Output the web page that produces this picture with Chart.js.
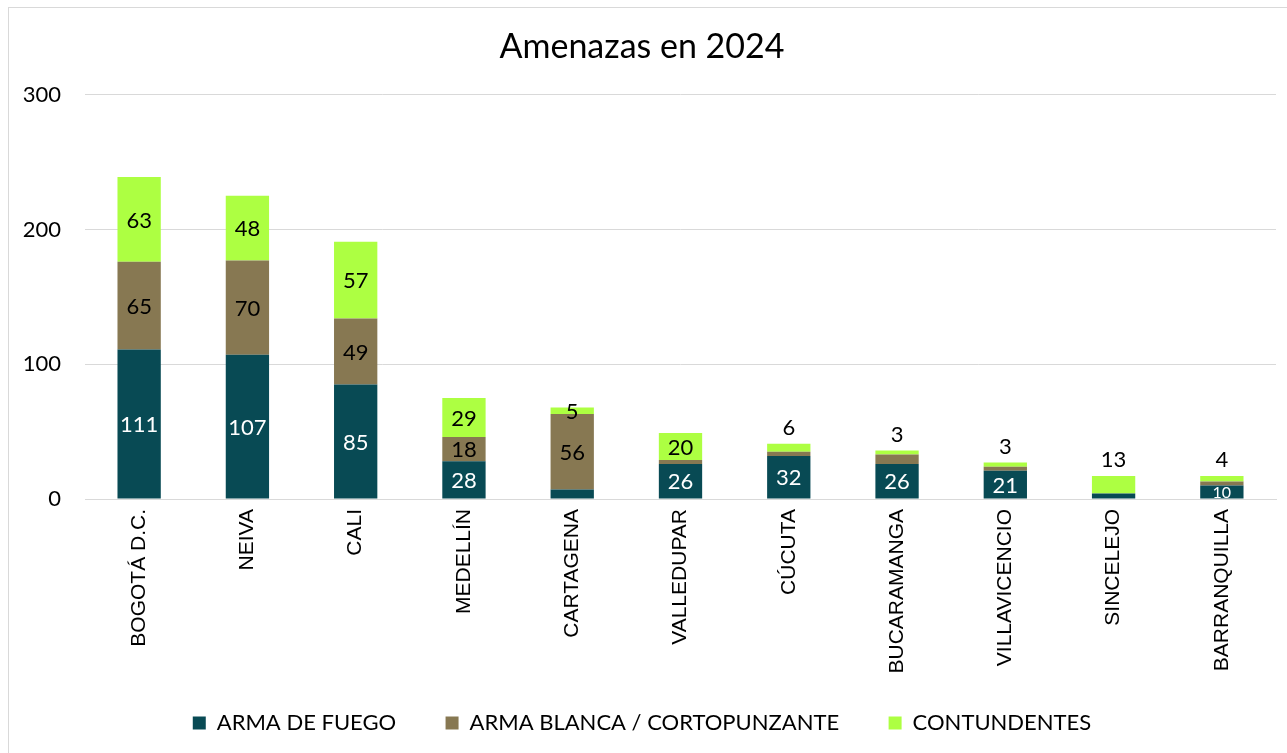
<!DOCTYPE html>
<html>
<head>
<meta charset="utf-8">
<script src="https://cdn.jsdelivr.net/npm/chart.js@4"></script>
<style>
  body { margin: 0; background: #fff; }
</style>
</head>
<body>
<canvas id="myChart" width="1287" height="753"></canvas>
<script>
let ciudades = ['BOGOTÁ D.C.', 'NEIVA', 'CALI', 'MEDELLÍN', 'CARTAGENA', 'VALLEDUPAR',
  'CÚCUTA', 'BUCARAMANGA', 'VILLAVICENCIO', 'SINCELEJO', 'BARRANQUILLA'];
let armaFuego = [111, 107, 85, 28, 7, 26, 32, 26, 21, 4, 10];
let armaBlanca = [65, 70, 49, 18, 56, 3, 3, 7, 3, 0, 3];
let contundentes = [63, 48, 57, 29, 5, 20, 6, 3, 3, 13, 4];
let yTicks = [0, 100, 200, 300];

// where the contundentes label goes: inside the segment or above the bar
let posContund = ['in', 'in', 'in', 'in', 'in', 'in', 'out', 'out', 'out', 'out', 'out'];

let fontTxt = 'Lato, "Open Sans", sans-serif';

let marco = {
  id: 'marco',
  beforeDraw(chart) {
    let c = chart.ctx;
    c.save();
    c.fillStyle = '#fff';
    c.fillRect(0, 0, chart.width, chart.height);
    c.strokeStyle = '#d9d9d9';
    c.lineWidth = 1;
    c.strokeRect(8.5, 7.5, 1290, 760);
    c.restore();
  }
};

let etiquetas = {
  id: 'etiquetas',
  afterDatasetsDraw(chart) {
    let c = chart.ctx;
    c.save();
    c.textAlign = 'center';
    c.textBaseline = 'middle';
    chart.data.datasets.forEach((ds, di) => {
      let meta = chart.getDatasetMeta(di);
      meta.data.forEach((bar, i) => {
        let v = ds.data[i];
        let h = Math.abs(bar.base - bar.y);
        let y = (bar.y + bar.base) / 2;
        c.font = '22px ' + fontTxt;
        if (di == 0) {
          if (v < 10) return;
          c.fillStyle = '#ffffff';
          if (h < 20) c.font = '16px ' + fontTxt;
        } else if (di == 1) {
          if (v < 15) return;
          c.fillStyle = '#000000';
        } else {
          c.fillStyle = '#000000';
          if (posContund[i] == 'out') y = bar.y - 17;
          else if (h < 12) y = bar.y + 4;
        }
        c.fillText(v, bar.x, y + 1);
      });
    });
    c.restore();
  }
};

let canvas = document.getElementById('myChart');
let ctx = canvas.getContext('2d');

let myChart = new Chart(ctx, {
  type: 'bar',
  data: {
    labels: ciudades,
    datasets: [{
      label: 'ARMA DE FUEGO',
      data: armaFuego,
      backgroundColor: 'rgb(8, 74, 84)'
    }, {
      label: 'ARMA BLANCA / CORTOPUNZANTE',
      data: armaBlanca,
      backgroundColor: 'rgb(135, 120, 82)'
    }, {
      label: 'CONTUNDENTES',
      data: contundentes,
      backgroundColor: 'rgb(173, 255, 66)'
    }]
  },
  options: {
    responsive: false,
    animation: false,
    barPercentage: 0.4,
    categoryPercentage: 1,
    layout: { padding: { top: 0, left: 8, right: 11, bottom: 9 } },
    plugins: {
      title: {
        display: true,
        text: 'Amenazas en 2024',
        color: '#000',
        font: { family: fontTxt, size: 34, weight: 'normal' },
        padding: { top: 27, bottom: 27 }
      },
      legend: {
        position: 'bottom',
        labels: {
          color: '#000',
          font: { family: fontTxt, size: 22 },
          boxWidth: 13,
          boxHeight: 13,
          padding: 10,
          generateLabels: chart => {
            let items = Chart.defaults.plugins.legend.labels.generateLabels(chart);
            items.forEach((it, k) => {
              if (k < items.length - 1) it.text = it.text + '       ';
            });
            return items;
          }
        }
      },
      tooltip: { enabled: false }
    },
    scales: {
      x: {
        stacked: true,
        grid: { display: false, drawTicks: false },
        border: { display: true, color: '#d9d9d9' },
        ticks: {
          color: '#000',
          font: { family: 'Liberation Sans, Arial, sans-serif', size: 21 },
          minRotation: 90,
          maxRotation: 90,
          padding: 10
        },
        afterFit: s => { s.height = 203; }
      },
      y: {
        stacked: true,
        min: 0,
        max: 300,
        afterBuildTicks: s => { s.ticks = yTicks.map(v => ({ value: v })); },
        grid: { color: '#d9d9d9', drawTicks: false },
        border: { display: false },
        ticks: {
          color: '#000',
          font: { family: fontTxt, size: 22 },
          padding: 24
        },
        afterFit: s => { s.width = 77; }
      }
    }
  },
  plugins: [marco, etiquetas]
});
</script>
</body>
</html>
